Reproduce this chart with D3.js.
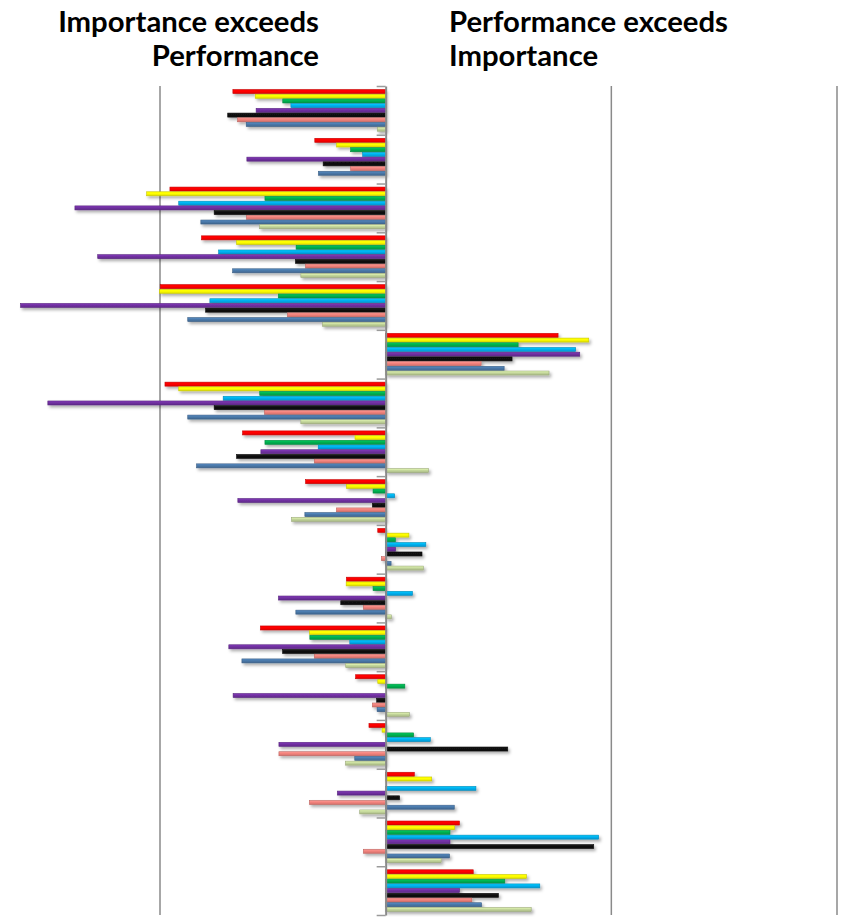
<!DOCTYPE html>
<html><head><meta charset="utf-8">
<script src="https://cdn.jsdelivr.net/npm/d3@7"></script>
<style>html,body{margin:0;padding:0;background:#fff;} svg{display:block;}</style>
</head><body><svg id="chart" width="846" height="919"></svg>
<script>
// ---- data ----
const categories = ["1","2","3","4","5","6","7","8","9","10","11","12","13","14","15","16","17"];
const seriesNames = ["Red","Yellow","Green","Cyan","Purple","Black","Salmon","Steel blue","Light green"];
const seriesColors = ["#FF0000","#FFFF00","#00B050","#00B0F0","#7030A0","#111111","#F2827C","#4A78A8","#C4D79B"];
const red        = [-0.677,-0.314,-0.956,-0.816,-0.999, 0.764,-0.978,-0.634,-0.355,-0.035,-0.174,-0.555,-0.133,-0.074, 0.127, 0.327, 0.388];
const yellow     = [-0.578,-0.217,-1.059,-0.661,-1.003, 0.900,-0.917,-0.136,-0.174, 0.103,-0.175,-0.338,-0.035,-0.016, 0.204, 0.305, 0.624];
const green      = [-0.456,-0.155,-0.535,-0.397,-0.476, 0.587,-0.558,-0.535,-0.056, 0.043,-0.056,-0.336, 0.085, 0.124, 0.000, 0.285, 0.528];
const cyan       = [-0.420,-0.102,-0.917,-0.740,-0.779, 0.842,-0.720,-0.299, 0.040, 0.178, 0.119,-0.159, 0.000, 0.198, 0.400, 0.944, 0.683];
const purple     = [-0.574,-0.615,-1.377,-1.276,-1.618, 0.860,-1.497,-0.553,-0.655, 0.044,-0.475,-0.695,-0.676,-0.473,-0.214, 0.285, 0.327];
const black      = [-0.700,-0.277,-0.760,-0.400,-0.798, 0.560,-0.760,-0.661,-0.059, 0.161,-0.199,-0.457,-0.040, 0.541, 0.062, 0.922, 0.500];
const salmon     = [-0.656,-0.155,-0.617,-0.355,-0.435, 0.423,-0.537,-0.316,-0.218,-0.019,-0.099,-0.316,-0.059,-0.473,-0.338,-0.099, 0.382];
const steelBlue  = [-0.618,-0.298,-0.819,-0.678,-0.877, 0.525,-0.877,-0.838,-0.358, 0.024,-0.398,-0.637,-0.038,-0.137, 0.304, 0.283, 0.425];
const lightGreen = [-0.037, 0.000,-0.559,-0.376,-0.280, 0.724,-0.376, 0.190,-0.417, 0.167, 0.025,-0.177, 0.105,-0.178,-0.115, 0.246, 0.645];
const seriesValues = [red, yellow, green, cyan, purple, black, salmon, steelBlue, lightGreen];
const gridValues = [-1, 1, 2];
const leftTitle = ["Importance exceeds", "Performance"];
const rightTitle = ["Performance exceeds", "Importance"];

// ---- chart ----
const svg = d3.select("#chart");
const yTop = 86, yBottom = 915;
const x = d3.scaleLinear().domain([-1, 2]).range([160, 837]);
const yGroup = d3.scaleBand().domain(categories).range([yTop, yBottom]).padding(0);
const ySeries = d3.scaleBand().domain(seriesNames).range([0, yGroup.bandwidth()])
  .paddingInner(0.15).paddingOuter(0.755);
const yEdge = d3.scaleLinear().domain([0, categories.length]).range([yTop, yBottom]);

const defs = svg.append("defs");
const filt = defs.append("filter").attr("id","sh").attr("filterUnits","userSpaceOnUse")
  .attr("x",-50).attr("y",0).attr("width",950).attr("height",950);
filt.append("feDropShadow").attr("dx",1.8).attr("dy",2.2).attr("stdDeviation",1.4)
  .attr("flood-color","#000").attr("flood-opacity",0.33);
seriesColors.forEach((c,i)=>{
  const g = defs.append("linearGradient").attr("id","g"+i).attr("x1",0).attr("y1",0).attr("x2",0).attr("y2",1);
  g.append("stop").attr("offset","0%").attr("stop-color", d3.color(c).brighter(0.5));
  g.append("stop").attr("offset","45%").attr("stop-color", c);
  g.append("stop").attr("offset","100%").attr("stop-color", d3.color(c).darker(0.4));
});

// gridlines
svg.append("g").selectAll("line").data(gridValues).join("line")
  .attr("x1", d=>x(d)).attr("x2", d=>x(d)).attr("y1", yTop).attr("y2", yBottom)
  .attr("stroke","#8a8a8a").attr("stroke-width",1.5);

// bars
const rows = [];
categories.forEach((cat, ci) => seriesNames.forEach((s, si) => {
  rows.push({cat, s, si, v: seriesValues[si][ci]});
}));
svg.append("g").attr("filter","url(#sh)").selectAll("rect").data(rows.filter(d=>d.v!==0)).join("rect")
  .attr("x", d => x(Math.min(0, d.v)))
  .attr("width", d => Math.abs(x(d.v) - x(0)))
  .attr("y", d => yGroup(d.cat) + ySeries(d.s))
  .attr("height", ySeries.bandwidth())
  .attr("fill", d => `url(#g${d.si})`)
  .attr("stroke", d => d3.color(seriesColors[d.si]).darker(0.7))
  .attr("stroke-width", 0.6);

// axis (category boundaries)
const axis = d3.axisLeft(yEdge).tickValues(d3.range(categories.length + 1)).tickFormat("").tickSize(9).tickSizeOuter(0);
const ag = svg.append("g").attr("transform", `translate(${x(0)},0)`).call(axis);
ag.select(".domain").attr("stroke","#8a8a8a").attr("stroke-width",2);
ag.selectAll(".tick line").attr("stroke","#9a9a9a").attr("stroke-width",1.5);

// titles
const font = "Lato, 'Open Sans', sans-serif";
const probe = svg.append("text").attr("font-family",font).attr("font-weight",700).attr("font-size",100).text(leftTitle[0]);
const w100 = probe.node().getComputedTextLength();
probe.remove();
const fs = 100 * 261 / w100;
const tl = svg.append("text").attr("font-family",font).attr("font-weight",700).attr("font-size",fs)
  .attr("text-anchor","end").attr("fill","#000");
tl.selectAll("tspan").data(leftTitle).join("tspan").attr("x",319).attr("y",(d,i)=>[32,66][i]).text(d=>d);
const tr = svg.append("text").attr("font-family",font).attr("font-weight",700).attr("font-size",fs)
  .attr("text-anchor","start").attr("fill","#000");
tr.selectAll("tspan").data(rightTitle).join("tspan").attr("x",449).attr("y",(d,i)=>[32,66][i]).text(d=>d);
</script></body></html>
